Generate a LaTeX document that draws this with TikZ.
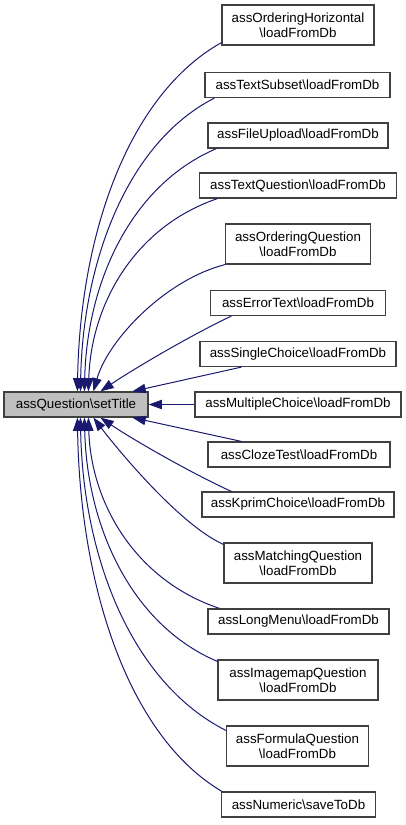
\documentclass[tikz,border=0pt]{standalone}
\usepackage{fontspec}
\setmainfont{Liberation Sans}
\usetikzlibrary{arrows.meta,calc}
\definecolor{edgeblue}{HTML}{191970}
\definecolor{rootfill}{HTML}{BFBFBF}
\newcommand\bx[6]{\node[box, minimum width=#4*0.75pt, minimum height=#5*0.75pt] (#1) at (#2,#3) {#6};}
\newcommand\bs{\textbackslash}
\begin{document}
\begin{tikzpicture}[x=0.75pt,y=-0.75pt,
  box/.style={draw=black!75, line width=0.9pt, fill=white, inner sep=0pt, align=center,
    font=\fontsize{10}{11.25}\selectfont, text=black},
  edge/.style={draw=edgeblue, line width=0.75pt, -{Triangle[length=10pt,width=7pt]}}]
\useasboundingbox (0,0) rectangle (405,825);
\node[box, fill=rootfill, minimum width=144*0.75pt, minimum height=25*0.75pt] (st) at (76,404.5) {assQuestion\bs setTitle};
\bx{n1}{298}{25}{152}{40}{assOrderingHorizontal\\\bs loadFromDb}
\bx{n2}{297.5}{85}{185}{25}{assTextSubset\bs loadFromDb}
\bx{n3}{298}{135.5}{180}{25}{assFileUpload\bs loadFromDb}
\bx{n4}{298}{185.5}{197}{25}{assTextQuestion\bs loadFromDb}
\bx{n5}{298}{244}{145}{40}{assOrderingQuestion\\\bs loadFromDb}
\bx{n6}{298}{303}{175}{25}{assErrorText\bs loadFromDb}
\bx{n7}{298}{354}{196}{25}{assSingleChoice\bs loadFromDb}
\bx{n8}{298}{404.5}{206}{25}{assMultipleChoice\bs loadFromDb}
\bx{n9}{299}{454.5}{182}{25}{assClozeTest\bs loadFromDb}
\bx{n10}{298}{504.5}{192}{25}{assKprimChoice\bs loadFromDb}
\bx{n11}{298}{563}{148}{40}{assMatchingQuestion\\\bs loadFromDb}
\bx{n12}{298.5}{621.5}{181}{25}{assLongMenu\bs loadFromDb}
\bx{n13}{298}{680}{160}{40}{assImagemapQuestion\\\bs loadFromDb}
\bx{n14}{297.5}{746}{142}{40}{assFormulaQuestion\\\bs loadFromDb}
\bx{n15}{298.5}{804.5}{154}{25}{assNumeric\bs saveToDb}
% upper edges
\draw[edge] ($(n1.south west)+(0,-3)$) .. controls (128,95) and (80,235) .. ($(st.north west)+(74,0)$);
\draw[edge] ($(n2.south west)+(10,0)$) .. controls (128,142) and (83,260) .. ($(st.north west)+(77,0)$);
\draw[edge] ($(n3.south west)+(9,0)$) .. controls (131,185) and (87,282) .. ($(st.north west)+(81,0)$);
\draw[edge] ($(n4.south west)+(18.5,0)$) .. controls (134,227) and (91,305) .. ($(st.north west)+(85,0)$);
\draw[edge] (n5.south west) .. controls (165,280) and (108,340) .. ($(st.north west)+(90,0)$);
\draw[edge] ($(n6.south west)+(21.5,0)$) .. controls (195,333) and (135,368) .. ($(st.north west)+(97,0)$);
\draw[edge] ($(n7.south west)+(42,0)$) -- ($(st.north west)+(129,0)$);
\draw[edge] (n8.west) -- (st.east);
% lower edges
\draw[edge] ($(n9.north west)+(34,0)$) -- ($(st.south west)+(129,0)$);
\draw[edge] ($(n10.north west)+(30,0)$) .. controls (195,475) and (135,441) .. ($(st.south west)+(97,0)$);
\draw[edge] ($(n11.north west)+(0,2)$) .. controls (180,525) and (118,450) .. ($(st.south west)+(90,0)$);
\draw[edge] ($(n12.north west)+(12,0)$) .. controls (135,580) and (91,503) .. ($(st.south west)+(85,0)$);
\draw[edge] ($(n13.north west)+(0,2)$) .. controls (131.5,625) and (87,527) .. ($(st.south west)+(81,0)$);
\draw[edge] ($(n14.north west)+(0,5)$) .. controls (132,683) and (83,558) .. ($(st.south west)+(77,0)$);
\draw[edge] ($(n15.north west)+(1,0)$) .. controls (128,736) and (80,586) .. ($(st.south west)+(74,0)$);
\end{tikzpicture}
\end{document}
